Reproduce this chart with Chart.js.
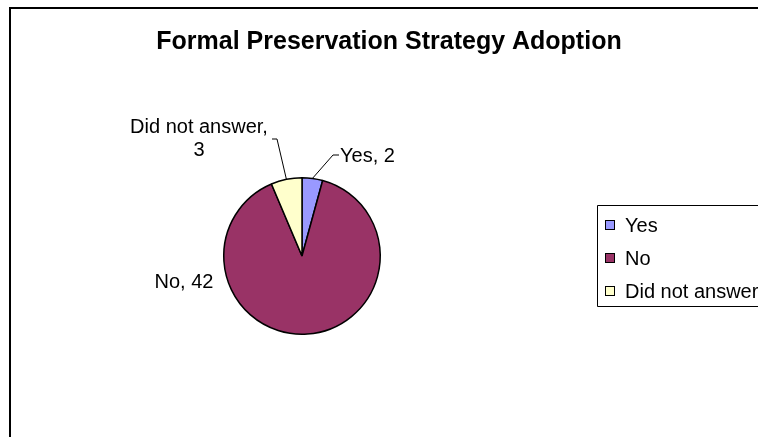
<!DOCTYPE html>
<html>
<head>
<meta charset="utf-8">
<title>Formal Preservation Strategy Adoption</title>
<script src="https://cdn.jsdelivr.net/npm/chart.js@4/dist/chart.umd.min.js"></script>
<style>
  html, body { margin: 0; padding: 0; background: #fff; }
  #wrap { width: 758px; height: 437px; }
</style>
</head>
<body>
<div id="wrap"><canvas id="chart" width="758" height="437"></canvas></div>
<script>
// survey answers
const chartTitle = 'Formal Preservation Strategy Adoption';
const answers = ['Yes', 'No', 'Did not answer'];
const counts = [2, 42, 3];
const sliceColors = ['#9999FF', '#993366', '#FFFFCC'];

const FONT = '"Liberation Sans", Arial, sans-serif';

// where each data label sits, relative to the pie centre (px)
const labelSpots = [
  { elbow: [31, -101], tail: 6, at: [38, -100], align: 'left' },
  { at: [-118, 26], align: 'center' },
  { elbow: [-25, -117], tail: -5, at: [-103, -129], align: 'center', wrap: true }
];

const decorations = {
  id: 'decorations',
  beforeDraw(chart) {
    const ctx = chart.ctx;
    ctx.save();
    // outer frame (only top and left edges fall inside the canvas)
    ctx.strokeStyle = '#000';
    ctx.lineWidth = 2;
    ctx.beginPath();
    ctx.moveTo(10, chart.height + 2);
    ctx.lineTo(10, 8);
    ctx.lineTo(chart.width + 2, 8);
    ctx.stroke();

    ctx.fillStyle = '#000';
    ctx.font = 'bold 25px ' + FONT;
    ctx.textAlign = 'center';
    ctx.textBaseline = 'alphabetic';
    ctx.fillText(chartTitle, 389, 49);
    ctx.restore();
  },
  afterDraw(chart) {
    const ctx = chart.ctx;
    const arcs = chart.getDatasetMeta(0).data;
    ctx.save();
    ctx.fillStyle = '#000';
    ctx.strokeStyle = '#000';
    ctx.lineWidth = 1;
    ctx.font = '20px ' + FONT;
    ctx.textBaseline = 'middle';

    arcs.forEach((arc, i) => {
      const spot = labelSpots[i];
      const { x, y, startAngle, endAngle, outerRadius } = arc.getProps(['x', 'y', 'startAngle', 'endAngle', 'outerRadius'], true);
      if (spot.elbow) {
        const mid = (startAngle + endAngle) / 2;
        const ex = x + spot.elbow[0], ey = y + spot.elbow[1];
        ctx.beginPath();
        ctx.moveTo(x + Math.cos(mid) * outerRadius, y + Math.sin(mid) * outerRadius);
        ctx.lineTo(ex, ey);
        ctx.lineTo(ex + spot.tail, ey);
        ctx.stroke();
      }
      const lines = spot.wrap
        ? [answers[i] + ',', String(counts[i])]
        : [answers[i] + ', ' + counts[i]];
      ctx.textAlign = spot.align;
      lines.forEach((ln, k) => {
        ctx.fillText(ln, x + spot.at[0], y + spot.at[1] + k * 23);
      });
    });

    // legend box, running off the right edge
    const lx = 597.5, ly = 205.5;
    ctx.beginPath();
    ctx.rect(lx, ly, 220, 101);
    ctx.stroke();
    ctx.textAlign = 'left';
    answers.forEach((name, i) => {
      const cy = 225 + i * 33;
      const top = Math.round(cy - 5) + 0.5;
      ctx.fillStyle = sliceColors[i];
      ctx.fillRect(605.5, top, 9, 9);
      ctx.strokeRect(605.5, top, 9, 9);
      ctx.fillStyle = '#000';
      ctx.fillText(name, 625, cy + 1);
    });
    ctx.restore();
  }
};

new Chart(document.getElementById('chart'), {
  type: 'pie',
  data: {
    labels: answers,
    datasets: [{
      data: counts,
      backgroundColor: sliceColors,
      borderColor: '#000',
      borderWidth: 1.5
    }]
  },
  options: {
    responsive: false,
    animation: false,
    layout: { padding: { left: 223, right: 377, top: 177, bottom: 102 } },
    plugins: {
      legend: { display: false },
      title: { display: false },
      tooltip: { enabled: false }
    }
  },
  plugins: [decorations]
});
</script>
</body>
</html>
